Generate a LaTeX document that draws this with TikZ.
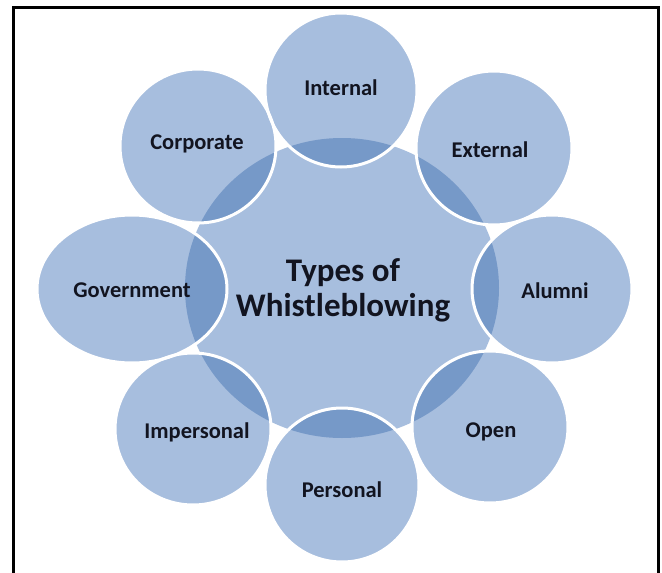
\documentclass[tikz,border=0pt]{standalone}
\usepackage{fontspec}
\setmainfont{Carlito}
\definecolor{bubble}{RGB}{167,190,222}
\definecolor{overlap}{RGB}{118,153,200}
\definecolor{ink}{RGB}{18,20,32}
\begin{document}
\begin{tikzpicture}[x=1pt,y=-1pt,
  leaf/.style={font=\bfseries\fontsize{22.5}{24}\selectfont, text=ink, inner sep=0},
  hub/.style={font=\bfseries\fontsize{33}{35}\selectfont, text=ink, align=center, inner sep=0},
  rim/.style={white, line width=3}]
\useasboundingbox (0,0) rectangle (662,573);
% central disc
\fill[bubble] (342,288) ellipse [x radius=157, y radius=150];
% outer discs: centre x / centre y / x radius / y radius
\def\petals{341/90/76/77, 494/148/78/77, 198/146/78/77, 132/289/95/74,
  552/289/80/74, 193/429/78/76, 490/427/78/76, 342/485/77/77}
\foreach \cx/\cy/\rx/\ry in \petals
  \fill[bubble] (\cx,\cy) ellipse [x radius=\rx, y radius=\ry];
% darker lens where each disc overlaps the centre
\foreach \cx/\cy/\rx/\ry in \petals {
  \begin{scope}
    \clip (342,288) ellipse [x radius=157, y radius=150];
    \fill[overlap] (\cx,\cy) ellipse [x radius=\rx, y radius=\ry];
  \end{scope}
}
% white rims
\foreach \cx/\cy/\rx/\ry in \petals
  \draw[rim] (\cx,\cy) ellipse [x radius=\rx, y radius=\ry];
% labels
\node[hub] (hub) at (343,290) {Types of\\Whistleblowing};
\node[leaf] (internal) at (341,88) {Internal};
\node[leaf] (external) at (490,150) {External};
\node[leaf] (corporate) at (197,144) {Corporate};
\node[leaf] (government) at (132,290) {Government};
\node[leaf] (alumni) at (555,291) {Alumni};
\node[leaf] (impersonal) at (197,432) {Impersonal};
\node[leaf] (open) at (491,432) {Open};
\node[leaf] (personal) at (342,490) {Personal};
% frame, open at the bottom
\draw[black, line width=3.5] (13.5,573) -- (13.5,7.5) -- (658.5,7.5) -- (658.5,573);
\end{tikzpicture}
\end{document}
